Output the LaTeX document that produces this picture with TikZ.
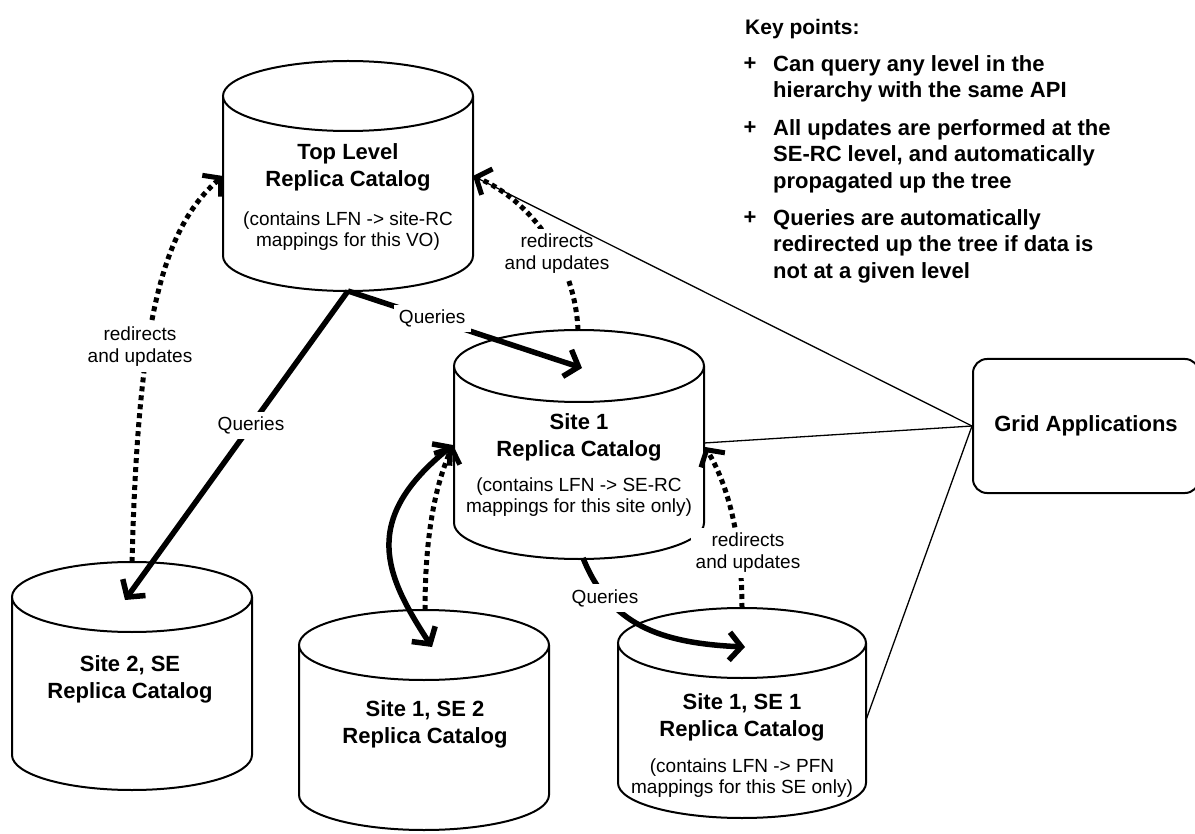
\documentclass[tikz,border=0pt]{standalone}
\usepackage{fontspec}
\setmainfont{Liberation Sans}
\usetikzlibrary{arrows.meta}

% catalogue drum: centre x, top-face centre y, bottom-face centre y, x radius, y radius
\newcommand\drawcan[5]{%
  \fill[white] (#1-#4,#2) -- (#1-#4,#3) arc[start angle=180,end angle=0,x radius=#4,y radius=#5] -- (#1+#4,#2) -- cycle;
  \draw[canline] (#1-#4,#2) -- (#1-#4,#3) arc[start angle=180,end angle=0,x radius=#4,y radius=#5] -- (#1+#4,#2);
  \filldraw[canline,fill=white] (#1,#2) ellipse[x radius=#4,y radius=#5];
}

\tikzset{
  canline/.style={line width=2pt},
  barbtip/.style={-{Straight Barb[length=12pt,width=28pt]}},
  bothtips/.style={{Straight Barb[length=12pt,width=28pt]}-{Straight Barb[length=12pt,width=28pt]}},
  query/.style={line width=5.5pt, barbtip},
  redirect/.style={line width=5pt, dash pattern=on 5pt off 4pt, barbtip},
  applink/.style={line width=1.3pt},
  cantitle/.style={font=\fontsize{22}{27}\selectfont\bfseries, align=center, inner sep=0pt},
  cannote/.style={font=\fontsize{19}{21}\selectfont, align=center, inner sep=0pt},
  lbl/.style={font=\fontsize{19}{22}\selectfont, align=center, fill=white, inner sep=5pt},
  keyhead/.style={font=\fontsize{21}{24}\selectfont\bfseries, inner sep=0pt},
  keytext/.style={font=\fontsize{22}{26.7}\selectfont\bfseries, align=left, inner sep=0pt},
  gridbox/.style={draw, line width=2pt, rounded corners=14pt, minimum width=226pt, minimum height=134pt,
    font=\fontsize{22}{27}\selectfont\bfseries},
}

\begin{document}
\begin{tikzpicture}[x=1pt,y=-1pt]
\useasboundingbox (0,0) rectangle (1195,834);

% the five replica catalogues
\drawcan{348}{96}{256}{125}{35}
\drawcan{579}{366}{523}{125}{36}
\drawcan{132}{597}{755}{120}{35}
\drawcan{424}{645}{795}{125}{35}
\drawcan{742}{643}{783}{124}{35}

\node[cantitle] (toprc) at (348,167) {Top Level\\Replica Catalog};
\node[cannote] (toprc-note) at (348,231) {(contains LFN -> site-RC\\mappings for this VO)};
\node[cantitle] (site1) at (579,437) {Site 1\\Replica Catalog};
\node[cannote] (site1-note) at (579,497) {(contains LFN -> SE-RC\\mappings for this site only)};
\node[cantitle] (site2se) at (130,679) {Site 2, SE\\Replica Catalog};
\node[cantitle] (site1se2) at (425,724) {Site 1, SE 2\\Replica Catalog};
\node[cantitle] (site1se1) at (742,717) {Site 1, SE 1\\Replica Catalog};
\node[cannote] (site1se1-note) at (742,778) {(contains LFN -> PFN\\mappings for this SE only)};

% applications box
\node[gridbox] (grid) at (1086,426) {Grid Applications};

% attachment points on the catalogues
\coordinate (top-w) at (223,176);
\coordinate (top-e) at (473,176);
\coordinate (top-s) at (348,291);
\coordinate (s1-n) at (578,330);
\coordinate (s1-c) at (582,368);
\coordinate (s1-w) at (453,445);
\coordinate (s1-e) at (705,447);
\coordinate (s1-e2) at (704,443);
\coordinate (s1-s) at (583,558);
\coordinate (s2-n) at (132,562);
\coordinate (s2-c) at (125,600);
\coordinate (se2-n) at (425,610);
\coordinate (se2-c) at (432,647);
\coordinate (se1-n) at (742,608);
\coordinate (se1-c) at (745,647);
\coordinate (se1-e) at (866,720);

% redirects and updates (dotted)
\draw[redirect] (s2-n) .. controls (138,330) and (160,230) .. (top-w);
\draw[redirect] (s1-n) .. controls (575,260) and (530,200) .. (top-e);
\draw[redirect] (se2-n) .. controls (425,520) and (440,475) .. (s1-w);
\draw[redirect] (se1-n) .. controls (742,530) and (725,480) .. (s1-e);

% queries (solid)
\draw[query] (top-s) -- node[lbl, pos=0.435] (q-a) {Queries} (s2-c);
\draw[query] (top-s) -- node[lbl, pos=0.36] (q-b) {Queries} (s1-c);
\draw[query] (s1-s) .. controls (610,625) and (660,643) .. (se1-c);
\draw[query, bothtips] (se2-c) .. controls (385,575) and (360,520) .. (s1-w);

\node[lbl] (q-c) at (605,598) {Queries};
\node[lbl] (r-a) at (140,347) {redirects\\and updates};
\node[lbl] (r-b) at (557,254) {redirects\\and updates};
\node[lbl] (r-c) at (748,553) {redirects\\and updates};

% links from the applications
\draw[applink] (grid.west) -- (top-e);
\draw[applink] (grid.west) -- (s1-e2);
\draw[applink] (grid.west) -- (se1-e);

% key points
\node[keyhead, anchor=base west] (kp-head) at (745,35) {Key points:};
\node[keytext, anchor=base] (kp-p1) at (750,71) {+};
\node[keytext, anchor=north west] (kp-1) at (773,55) {Can query any level in the\\hierarchy with the same API};
\node[keytext, anchor=base] (kp-p2) at (750,135) {+};
\node[keytext, anchor=north west] (kp-2) at (773,119) {All updates are performed at the\\SE-RC level, and automatically\\propagated up the tree};
\node[keytext, anchor=base] (kp-p3) at (750,225) {+};
\node[keytext, anchor=north west] (kp-3) at (773,209) {Queries are automatically\\redirected up the tree if data is\\not at a given level};
\end{tikzpicture}
\end{document}
